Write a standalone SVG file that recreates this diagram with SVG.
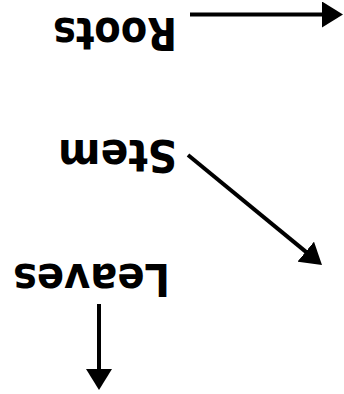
<svg xmlns="http://www.w3.org/2000/svg" width="344" height="394" viewBox="0 0 344 394">
<style>
.lbl{font-family:"DejaVu Sans","Liberation Sans",sans-serif;font-weight:bold;font-size:44px;fill:#000;}
.conn{stroke:#000;stroke-width:4;fill:none;marker-end:url(#ah);}
</style>
<defs>
<marker id="ah" viewBox="0 0 21 26" markerWidth="21" markerHeight="26" refX="9" refY="13" markerUnits="userSpaceOnUse" orient="auto">
<path d="M0,0 L21,13 L0,26 Z" fill="#000"/>
</marker>
</defs>
<rect width="344" height="394" fill="#fff"/>
<g id="roots">
<text class="lbl" transform="translate(115,18) rotate(180)" text-anchor="middle" textLength="124" lengthAdjust="spacingAndGlyphs">Roots</text>
</g>
<g id="stem">
<text class="lbl" transform="translate(117.5,140) rotate(180)" text-anchor="middle" textLength="119" lengthAdjust="spacingAndGlyphs">Stem</text>
</g>
<g id="leaves">
<text class="lbl" transform="translate(91.5,264) rotate(180)" text-anchor="middle" textLength="157" lengthAdjust="spacingAndGlyphs">Leaves</text>
</g>
<g id="connectors">
<line class="conn" x1="190" y1="14.5" x2="331" y2="14.5"/>
<line class="conn" x1="188" y1="155" x2="312.7" y2="257.4"/>
<line class="conn" x1="99" y1="304" x2="99" y2="378"/>
</g>
</svg>
